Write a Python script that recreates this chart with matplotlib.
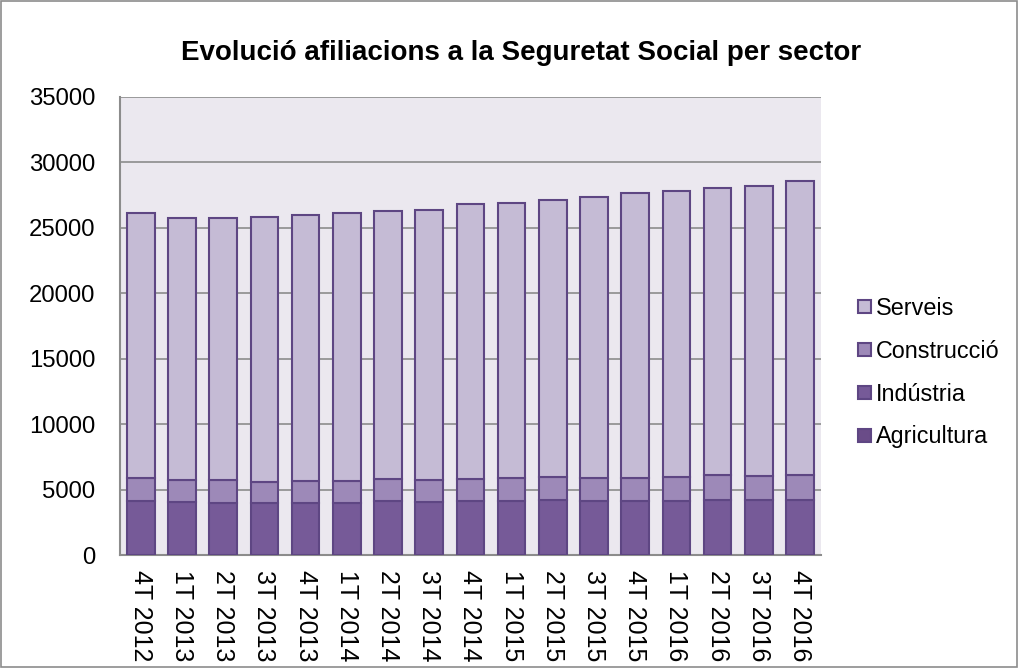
import numpy as np
import matplotlib as mpl
from matplotlib import pyplot as plt

# data
trimestres   = ['4T 2012','1T 2013','2T 2013','3T 2013','4T 2013','1T 2014','2T 2014','3T 2014','4T 2014',
                '1T 2015','2T 2015','3T 2015','4T 2015','1T 2016','2T 2016','3T 2016','4T 2016']
total        = np.array([26110, 25780, 25760, 25830, 26010, 26110, 26250, 26380, 26830,
                         26920, 27150, 27330, 27690, 27830, 28060, 28160, 28610])
agricultura  = np.array([30, 30, 30, 30, 30, 30, 30, 30, 30, 30, 30, 30, 30, 30, 30, 30, 30])
industria    = np.array([4100, 4020, 3940, 3940, 3970, 3970, 4070, 4020, 4070,
                         4100, 4150, 4120, 4100, 4070, 4200, 4150, 4150])
construccio  = np.array([1770, 1720, 1750, 1650, 1640, 1690, 1700, 1650, 1700,
                         1770, 1820, 1770, 1770, 1870, 1920, 1850, 1920])
serveis      = total - agricultura - industria - construccio

series = [('Agricultura', agricultura, '#6a4c88'),
          ('Indústria', industria, '#765a98'),
          ('Construcció', construccio, '#9d89b8'),
          ('Serveis', serveis, '#c5bbd5')]

plt.rcParams['font.family'] = ['Liberation Sans', 'DejaVu Sans']

fig = plt.figure(figsize=(10.18, 6.68), dpi=100)
fig.patches.append(mpl.patches.Rectangle((0.001, 0.001), 0.998, 0.997, transform=fig.transFigure,
                                         fill=False, edgecolor='#8c8c8c', lw=1.2))
ax = fig.add_axes([0.118, 0.169, 0.688, 0.686])
ax.set_facecolor('#ebe8ef')

x = np.arange(len(trimestres))
bottom = np.zeros(len(trimestres))
handles = []
for name, vals, col in series:
    b = ax.bar(x, vals, bottom=bottom, width=0.67, color=col, edgecolor='#5e4683', lw=1.5, label=name, zorder=3)
    handles.append(b)
    bottom = bottom + vals

ax.set_ylim(0, 35000)
ax.set_xlim(-0.5, len(trimestres) - 0.5)
ax.set_yticks(np.arange(0, 35001, 5000))
ax.tick_params(axis='y', labelsize=17.2, length=0, pad=18)
ax.tick_params(axis='x', labelsize=18, length=0, pad=11)
ax.set_xticks(x)
ax.set_xticklabels(trimestres, rotation=270)
ax.yaxis.grid(True, color='#8c8c8c', lw=1.2, zorder=0)
ax.set_axisbelow(True)
for s in ['top', 'right']:
    ax.spines[s].set_visible(False)
for s in ['left', 'bottom']:
    ax.spines[s].set_color('#8c8c8c')
    ax.spines[s].set_linewidth(1.5)

fig.text(0.512, 0.921, 'Evolució afiliacions a la Seguretat Social per sector', ha='center', va='center',
         fontsize=20, fontweight='bold')

leg = ax.legend(handles[::-1], [s[0] for s in series][::-1], loc='center left', bbox_to_anchor=(0.843, 0.442),
                bbox_transform=fig.transFigure, frameon=False, fontsize=16.8, handlelength=0.55,
                handleheight=0.5, handletextpad=0.2, labelspacing=0.85, borderpad=0, borderaxespad=0)

plt.savefig('out.png', dpi=100)
